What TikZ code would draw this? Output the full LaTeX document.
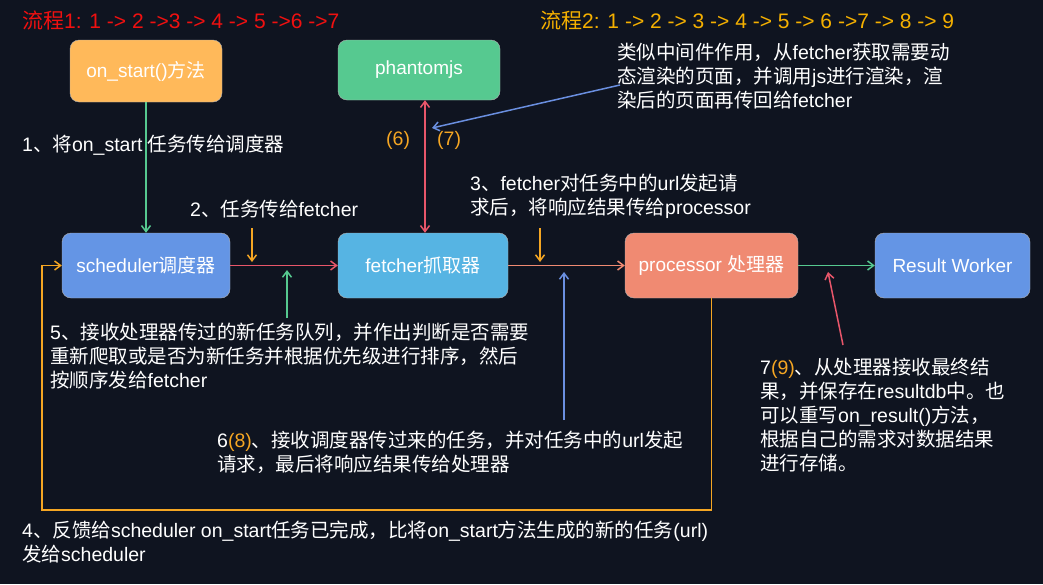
\documentclass[tikz,border=0pt]{standalone}
\usepackage{fontspec}
\setmainfont{Liberation Sans}
\newfontfamily\cjkfont{Noto Sans CJK SC}
\newfontfamily\latinfont{Liberation Sans}
\XeTeXinterchartokenstate=1
\newXeTeXintercharclass\cjkclass
\makeatletter
\count255="3000
\loop\ifnum\count255<"3040 \XeTeXcharclass\count255=\cjkclass \advance\count255 by 1 \repeat
\count255="4E00
\loop\ifnum\count255<"A000 \XeTeXcharclass\count255=\cjkclass \advance\count255 by 1 \repeat
\count255="FF00
\loop\ifnum\count255<"FFF0 \XeTeXcharclass\count255=\cjkclass \advance\count255 by 1 \repeat
\makeatother
\XeTeXinterchartoks 0 \cjkclass = {\cjkfont}
\XeTeXinterchartoks 4095 \cjkclass = {\cjkfont}
\XeTeXinterchartoks \cjkclass 0 = {\latinfont}
\XeTeXinterchartoks \cjkclass 4095 = {\latinfont}
\usetikzlibrary{arrows.meta}
\definecolor{bg}{HTML}{0F1420}
\definecolor{cor}{HTML}{FFB95A}
\definecolor{cgr}{HTML}{56C990}
\definecolor{cbl}{HTML}{6495E5}
\definecolor{ccy}{HTML}{56B4E3}
\definecolor{csa}{HTML}{F08A72}
\definecolor{cred}{HTML}{E8566A}
\definecolor{cora}{HTML}{F5A623}
\definecolor{cblu}{HTML}{6A8FE0}
\definecolor{title}{HTML}{F01010}
\definecolor{title2}{HTML}{F5B000}
\begin{document}
\begin{tikzpicture}[x=1pt,y=-1pt,
 box/.style={rounded corners=9pt,draw=black!30,text=white,font=\fontsize{19}{22}\selectfont,inner sep=0},
 lbl/.style={text=white,anchor=north west,align=left,font=\fontsize{19.5}{24}\selectfont,inner sep=0},
 arr/.style={-{Straight Barb[length=6pt,width=9pt]},line width=1.5pt}]
\fill[bg] (0,0) rectangle (1043,584);
\useasboundingbox (0,0) rectangle (1043,584);
\node[box,fill=cor,minimum width=152pt,minimum height=62pt] (on) at (146,71) {on\_start()方法};
\node[box,fill=cgr,minimum width=162pt,minimum height=60pt] (ph) at (419,70) {phantomjs};
\node[box,fill=cbl,minimum width=168pt,minimum height=65pt] (sc) at (146,265.5) {scheduler调度器};
\node[box,fill=ccy,minimum width=170pt,minimum height=65pt] (fe) at (423,265.5) {fetcher抓取器};
\node[box,fill=csa,minimum width=173pt,minimum height=65pt] (pr) at (711.5,265.5) {processor 处理器};
\node[box,fill=cbl,minimum width=155pt,minimum height=65pt] (rw) at (952.5,265.5) {Result Worker};
\draw[arr,cgr] (on.south) -- (sc.north);
\draw[arr,cred] (sc.east) -- (fe.west);
\draw[arr,csa] (fe.east) -- (pr.west);
\draw[arr,cgr] (pr.east) -- (rw.west);
\draw[arr,{Straight Barb[length=6pt,width=9pt]}-{Straight Barb[length=6pt,width=9pt]},cred] (ph.south -| 425,0) -- (fe.north -| 425,0);
\coordinate (bn1) at (620,85); \coordinate (bn2) at (432,128);
\draw[arr,cblu] (bn1) -- (bn2);
\coordinate (o1) at (252,228); \coordinate (o2) at (252,262);
\draw[arr,cora] (o1) -- (o2);
\coordinate (o3) at (540,228); \coordinate (o4) at (540,262);
\draw[arr,cora] (o3) -- (o4);
\coordinate (g1) at (287,318); \coordinate (g2) at (287,270);
\draw[arr,cgr] (g1) -- (g2);
\coordinate (b1) at (564,420); \coordinate (b2) at (564,272);
\draw[arr,cblu] (b1) -- (b2);
\coordinate (r1) at (843,345); \coordinate (r2) at (828,272);
\draw[arr,cred] (r1) -- (r2);
\draw[arr,cora] (pr.south) -- (711.5,510) -- (42,510) -- (42,265.5) -- (sc.west);
\node[anchor=west,inner sep=0,text=title,font=\fontsize{21}{24}\selectfont] (t1) at (22,20) {流程1: 1 -> 2 ->3 -> 4 -> 5 ->6 ->7};
\node[anchor=west,inner sep=0,text=title2,font=\fontsize{21}{24}\selectfont] (t2) at (540,20) {流程2: 1 -> 2 -> 3 -> 4 -> 5 -> 6 ->7 -> 8 -> 9};
\node[lbl] (l1) at (22,135) {1、将on\_start 任务传给调度器};
\node[lbl,text=cora] (l6) at (386,131) {(6)};
\node[lbl,text=cora] (l7) at (437,131) {(7)};
\node[lbl] (lp) at (617,43) {类似中间件作用，从fetcher获取需要动\\态渲染的页面，并调用js进行渲染，渲\\染后的页面再传回给fetcher};
\node[lbl] (l2) at (190,200) {2、任务传给fetcher};
\node[lbl] (l3) at (470,174) {3、fetcher对任务中的url发起请\\求后，将响应结果传给processor};
\node[lbl] (l5) at (50,323) {5、接收处理器传过的新任务队列，并作出判断是否需要\\重新爬取或是否为新任务并根据优先级进行排序，然后\\按顺序发给fetcher};
\node[lbl] (l68) at (217,431) {6\textcolor{cora}{(8)}、接收调度器传过来的任务，并对任务中的url发起\\请求，最后将响应结果传给处理器};
\node[lbl] (l79) at (760,358) {7\textcolor{cora}{(9)}、从处理器接收最终结\\果，并保存在resultdb中。也\\可以重写on\_result()方法，\\根据自己的需求对数据结果\\进行存储。};
\node[lbl] (l4) at (22,521) {4、反馈给scheduler on\_start任务已完成，比将on\_start方法生成的新的任务(url)\\发给scheduler};
\end{tikzpicture}
\end{document}
